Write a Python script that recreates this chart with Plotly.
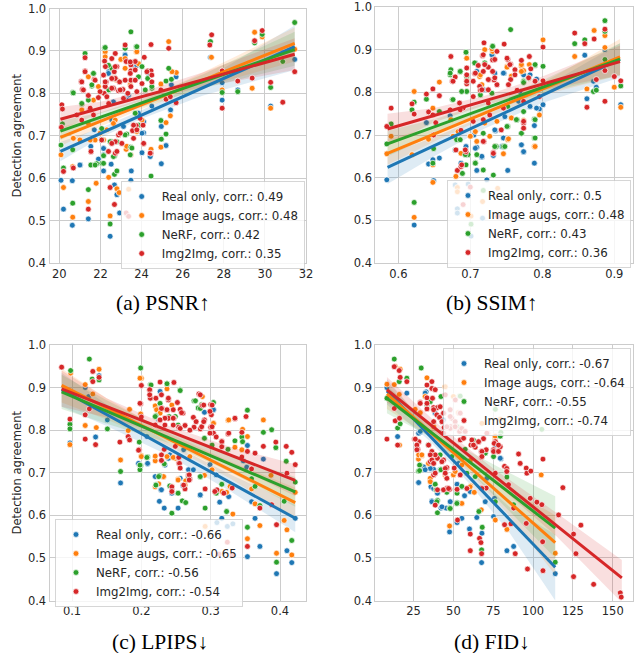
import plotly.graph_objects as go

series_names = ["Real only", "Image augs", "NeRF", "Img2Img"]
series_colors = ["#1f77b4", "#ff7f0e", "#2ca02c", "#d62728"]
band_colors = ["rgba(31,119,180,0.15)", "rgba(255,127,14,0.15)", "rgba(44,160,44,0.15)", "rgba(214,39,40,0.15)"]
y_ticks = [0.4, 0.5, 0.6, 0.7, 0.8, 0.9, 1.0]

# ---------- PSNR ----------
psnr_corr = [0.49, 0.48, 0.42, 0.35]
psnr_ticks = [20, 22, 24, 26, 28, 30, 32]
psnr_blue_x = [20.08,20.2,20.63,20.63,21.02,21.41,21.9,22.15,22.15,22.52,22.47,22.68,22.8,22.93,23.2,23.48,23.5,24.02,24.1,24.42,24.96,24.96,25.19,25.41,25.68,25.45,24.5,24.34,27.35,27.92,27.92,28.68,30.28,31.45,29.5,29.87,22.4,21.53,21.7,22.63,23.28,23.7,23.85,
               22.15,24.02,24.1,22.55,23.12,22.63,23.37,22.39,23.77,23.2,21.0,22.15]
psnr_blue_y = [.595,.527,.594,.489,.631,.504,.645,.617,.671,.633,.463,.584,.561,.518,.892,.595,.617,.66,.707,.651,.722,.634,.677,.761,.839,.82,.77,.847,.885,.825,.784,.808,.77,.88,.922,.94,.851,.675,.714,.73,.792,.863,.753,
               .67,.706,.733,.737,.722,.78,.796,.847,.866,.89,.631,.655]
psnr_orange_x = [20.08,20.2,20.65,20.65,20.68,21,21.41,21.79,22.23,22.4,22.47,22.8,22.91,22.99,23.25,23.37,23.48,23.74,24.1,24.46,24.94,25.19,25.32,25.4,25.69,25.48,24.94,27.4,27.92,29.38,29.5,29.87,30.28,31.45,22.15,21.98,21.41,21.66,23.2,22.72,23.77,24.02,22.8,21.09,
                 22.23,22.23,23.77,23.2,23.85,22.63,21.9,23.45,20.68,21.41,22.31,23.28,22.63,21.74,21.5]
psnr_orange_y = [.655,.578,.627,.508,.694,.69,.545,.588,.896,.602,.511,.575,.566,.88,.668,.574,.655,.898,.681,.668,.673,.731,.922,.747,.849,.851,.822,.885,.808,.812,.944,.933,.765,.904,.69,.706,.839,.784,.859,.737,.71,.737,.831,.761,
                 .898,.886,.898,.882,.87,.835,.816,.82,.694,.729,.714,.675,.729,.69,.69]
psnr_green_x = [20.08,20.2,20.15,20.65,20.65,20.65,21.09,21.25,21.41,21.53,21.41,21.58,21.66,21.82,22.07,22.2,22.15,22.4,22.47,22.68,22.68,22.8,22.55,22.55,23.2,23.28,23.48,23.48,23.74,24.02,24.18,24.3,24.46,24.5,24.94,24.96,25.19,25.19,25.32,25.45,27.35,27.92,28.68,29.5,29.87,30.28,30.87,31.45,23.69,23.85,
                22.23,23.77,20.68,21.66,21.58,22.39,23.85,24.5,21.09,22.06,22.06,22.47,22.8,23.2,23.53,23.45,21.74,22.15,22.72,22.63]
psnr_green_y = [.678,.624,.728,.802,.541,.667,.775,.894,.573,.631,.784,.817,.847,.634,.635,.907,.653,.808,.492,.609,.652,.617,.686,.859,.906,.704,.945,.673,.91,.863,.808,.835,.605,.812,.736,.692,.704,.829,.859,.833,.922,.802,.804,.919,.939,.814,.875,.967,.753,.725,
                .908,.91,.801,.847,.82,.866,.839,.816,.776,.717,.69,.686,.686,.702,.671,.655,.631,.635,.835,.651]
psnr_red_x = [27.41,27.32,27.92,27.92,28.68,29.5,29.38,29.87,30.28,30.87,31.45,20.1,20.12,20.15,20.2,20.68,21.06,21.12,21.06,21.25,21.25,21.41,21.41,21.46,21.53,21.7,21.66,21.9,22.15,22.2,22.24,22.28,22.18,22.4,22.47,22.68,22.72,22.72,22.88,22.72,22.55,22.67,22.72,22.8,22.93,22.88,23.2,23.25,23.48,23.48,23.48,23.48,23.09,23.33,23.69,23.69,23.69,24.13,24.3,24.46,24.46,24.5,24.07,23.61,23.56,23.93,23.74,24.46,24.94,25.32,25.19,25.4,25.68,22.23,22.55,22.63,23.28,23.25,23.37,
              21.5,20.85,21.09,22.31,21.98,22.55,22.96,23.2,23.45,23.12,23.77,24.02,24.5,24.26,23.45,22.72,22.15,21.25,21.09,21.74,21.17,22.23,23.61,23.77,22.96,22.39,22.8,21.54,22.06,22.55,24.42,24.1,23.04]
psnr_red_y = [.938,.914,.853,.765,.829,.924,.836,.948,.826,.779,.851,.72,.773,.763,.616,.624,.828,.809,.737,.884,.853,.527,.795,.762,.662,.833,.749,.79,.843,.876,.863,.827,.8,.776,.578,.538,.659,.686,.702,.894,.882,.851,.835,.863,.827,.806,.914,.875,.867,.853,.831,.816,.809,.8,.875,.855,.831,.885,.853,.853,.915,.827,.725,.694,.712,.741,.724,.659,.808,.906,.786,.792,.778,.816,.835,.812,.516,.518,.51,
              .765,.749,.737,.792,.804,.812,.808,.831,.847,.788,.804,.823,.843,.851,.874,.863,.843,.851,.827,.831,.808,.827,.725,.714,.706,.663,.663,.663,.69,.682,.659,.682,.682]
psnr_band_x = [20.05, 22, 24, 27, 31.45]
psnr_blue_fit = [.663, .705, .749, .814, .91]
psnr_blue_lo = [.64, .695, .74, .795, .855]
psnr_blue_hi = [.685, .718, .76, .83, .96]
psnr_orange_fit = [.696, .733, .772, .831, .918]
psnr_orange_lo = [.675, .722, .763, .815, .875]
psnr_orange_hi = [.72, .745, .782, .85, .955]
psnr_green_fit = [.711, .743, .777, .828, .903]
psnr_green_lo = [.69, .733, .768, .812, .865]
psnr_green_hi = [.735, .755, .787, .845, .945]
psnr_red_fit = [.739, .765, .792, .832, .892]
psnr_red_lo = [.715, .753, .782, .815, .855]
psnr_red_hi = [.768, .78, .803, .85, .93]

# ---------- SSIM ----------
ssim_corr = [0.5, 0.48, 0.43, 0.36]
ssim_ticks = [0.6, 0.7, 0.8, 0.9]
ssim_blue_x = [.584,.622,.642,.648,.649,.657,.679,.682,.682,.687,.694,.697,.701,.705,.709,.709,.716,.717,.723,.732,.735,.746,.752,.747,.731,.709,.769,.771,.774,.774,.783,.789,.789,.792,.796,.801,.859,.862,.871,.875,.887,.909,.639,.672,
               .746,.73,.707,.734,.718,.783,.767,.783,.748,.734,.744,.707,.716,.774,.792,.679,.771]
ssim_blue_y = [.595,.489,.632,.642,.593,.646,.583,.527,.517,.634,.673,.585,.463,.7,.617,.671,.648,.505,.595,.652,.71,.693,.617,.845,.886,.849,.802,.677,.66,.841,.767,.722,.634,.831,.761,.771,.887,.785,.826,.812,.9,.771,.729,.745,
               .845,.888,.869,.845,.806,.841,.779,.767,.743,.712,.673,.669,.65,.661,.763,.665,.677]
ssim_orange_x = [.584,.59,.622,.622,.642,.648,.648,.657,.648,.619,.68,.682,.682,.673,.686,.687,.7,.695,.695,.709,.701,.717,.72,.713,.72,.731,.737,.738,.746,.752,.757,.751,.771,.774,.774,.782,.789,.796,.801,.845,.862,.872,.887,.887,.9,.909,
                 .751,.771,.771,.714,.716,.695,.73,.757,.757,.7,.707,.753,.79,.734,.727,.683,.676]
ssim_orange_y = [.656,.697,.507,.802,.69,.589,.763,.824,.63,.654,.603,.577,.567,.736,.849,.657,.697,.88,.83,.685,.51,.544,.728,.837,.9,.896,.732,.575,.656,.689,.74,.861,.861,.851,.734,.865,.673,.747,.923,.884,.808,.945,.905,.933,.812,.765,
                 .859,.865,.849,.841,.818,.88,.902,.838,.74,.697,.708,.691,.673,.673,.697,.708,.697]
ssim_green_x = [.584,.59,.622,.619,.622,.639,.648,.649,.657,.673,.672,.675,.686,.689,.694,.694,.695,.681,.697,.701,.707,.709,.706,.718,.718,.72,.731,.732,.736,.746,.756,.752,.752,.765,.774,.771,.774,.789,.789,.79,.781,.801,.845,.859,.871,.875,.887,.887,.887,.909,
                .694,.731,.672,.686,.695,.688,.676,.714,.774,.79,.73,.764,.79,.751,.771,.79,.718,.734,.748,.707,.693,.686]
ssim_green_y = [.679,.726,.542,.759,.777,.784,.634,.668,.755,.853,.841,.783,.849,.61,.894,.63,.802,.689,.654,.491,.635,.654,.869,.618,.57,.869,.908,.606,.673,.673,.947,.72,.767,.736,.826,.704,.755,.693,.737,.863,.833,.861,.914,.923,.802,.805,.968,.943,.877,.815,
                .894,.908,.845,.849,.837,.802,.783,.794,.823,.865,.798,.736,.736,.72,.704,.693,.704,.673,.673,.634,.654,.689]
ssim_red_x = [.584,.59,.619,.622,.639,.642,.648,.648,.649,.652,.657,.673,.675,.679,.68,.682,.685,.687,.687,.69,.695,.695,.694,.695,.69,.7,.706,.711,.713,.714,.704,.717,.719,.718,.719,.725,.726,.731,.731,.737,.737,.727,.733,.732,.738,.725,.743,.747,.746,.752,.756,.756,.762,.765,.771,.774,.774,.782,.784,.796,.801,.801,.845,.859,.862,.872,.875,.887,.887,.887,.9,.909,
              .718,.72,.707,.704,.695,.676,.725,.734,.716,.725,.753,.755,.762,.781,.79,.734,.751,.686,.672,.704,.718,.727,.774,.774,.693,.718,.732,.688]
ssim_red_y = [.72,.763,.773,.749,.796,.754,.808,.747,.7,.729,.792,.884,.826,.836,.665,.617,.775,.711,.626,.763,.841,.82,.661,.857,.537,.578,.844,.863,.814,.805,.79,.886,.916,.849,.685,.859,.83,.876,.849,.896,.818,.747,.829,.659,.509,.775,.712,.913,.763,.877,.866,.83,.853,.805,.875,.779,.728,.884,.855,.79,.906,.827,.939,.914,.765,.925,.83,.948,.851,.779,.837,.827,
              .888,.865,.845,.826,.826,.826,.83,.834,.806,.806,.818,.865,.841,.834,.826,.877,.88,.759,.759,.732,.736,.747,.732,.716,.665,.685,.657,.63]
ssim_band_x = [.585, .65, .72, .8, .908]
ssim_blue_fit = [.624, .675, .73, .793, .878]
ssim_blue_lo = [.585, .65, .715, .775, .835]
ssim_blue_hi = [.655, .695, .745, .81, .915]
ssim_orange_fit = [.657, .702, .751, .807, .883]
ssim_orange_lo = [.63, .685, .74, .793, .84]
ssim_orange_hi = [.69, .72, .763, .822, .925]
ssim_green_fit = [.679, .719, .763, .812, .878]
ssim_green_lo = [.65, .7, .752, .798, .84]
ssim_green_hi = [.71, .737, .775, .828, .915]
ssim_red_fit = [.714, .746, .78, .82, .872]
ssim_red_lo = [.675, .73, .77, .805, .84]
ssim_red_hi = [.75, .763, .792, .837, .91]

# ---------- LPIPS ----------
lpips_corr = [-0.66, -0.65, -0.56, -0.54]
lpips_ticks = [0.1, 0.2, 0.3, 0.4]
lpips_blue_x = [.097,.119,.124,.134,.139,.151,.17,.196,.209,.22,.226,.228,.233,.244,.253,.26,.268,.285,.299,.308,.309,.313,.316,.324,.326,.332,.353,.353,.359,.364,.371,.376,.395,.41,.417,.422,.347,.352,.227,.304,.291,.208,.239,
                .209,.196,.234,.241,.256,.263,.285,.275,.304,.229,.261,.299,.225,.326]
lpips_blue_y = [.77,.9,.879,.784,.928,.824,.676,.721,.721,.691,.633,.66,.617,.652,.617,.67,.707,.647,.719,.695,.583,.631,.593,.574,.644,.58,.503,.764,.632,.593,.527,.732,.463,.517,.489,.593,.728,.713,.891,.848,.842,.785,.734,
                .722,.722,.718,.742,.687,.671,.648,.707,.848,.66,.754,.719,.824,.644]
lpips_orange_x = [.097,.098,.119,.119,.13,.135,.139,.17,.181,.183,.2,.2,.199,.22,.221,.225,.232,.237,.244,.253,.249,.264,.27,.288,.291,.292,.304,.301,.316,.323,.325,.328,.332,.335,.345,.346,.353,.353,.359,.364,.371,.376,.395,.387,.406,.41,.417,.422,
                  .198,.237,.22,.222,.227,.244,.22,.2,.22,.232,.237,.246,.253,.263,.304,.326,.22,.302]
lpips_orange_y = [.766,.934,.907,.811,.885,.806,.943,.73,.799,.849,.922,.74,.838,.728,.857,.674,.69,.899,.668,.685,.734,.681,.738,.879,.694,.574,.817,.762,.656,.654,.823,.668,.603,.76,.754,.802,.785,.545,.662,.627,.576,.824,.511,.694,.588,.566,.507,.654,
                  .922,.897,.857,.848,.84,.859,.832,.738,.739,.691,.738,.736,.683,.671,.816,.824,.667,.707]
lpips_green_x = [.097,.097,.098,.125,.129,.139,.151,.17,.197,.199,.199,.209,.213,.221,.221,.226,.227,.233,.237,.244,.253,.256,.259,.264,.276,.282,.285,.287,.291,.292,.304,.308,.316,.323,.325,.335,.345,.346,.353,.353,.359,.364,.371,.376,.388,.394,.395,.406,.409,.417,.422,
                 .214,.237,.256,.278,.22,.227,.24,.249,.253,.285,.198,.198,.208,.221,.225,.241,.253,.285,.302,.268]
lpips_green_y = [.814,.803,.94,.967,.92,.918,.803,.703,.772,.717,.946,.737,.907,.834,.672,.693,.862,.721,.909,.605,.652,.895,.634,.63,.869,.852,.69,.86,.781,.617,.865,.652,.673,.609,.755,.775,.784,.773,.572,.847,.686,.668,.623,.795,.801,.759,.49,.633,.727,.541,.678,
                 .906,.909,.893,.869,.832,.863,.832,.832,.812,.851,.707,.718,.736,.671,.691,.669,.652,.691,.765,.691]
lpips_red_x = [.085,.097,.119,.119,.125,.13,.13,.134,.139,.169,.181,.183,.197,.2,.199,.2,.212,.213,.22,.221,.227,.229,.227,.229,.229,.23,.233,.237,.239,.239,.244,.247,.247,.249,.252,.256,.254,.254,.254,.256,.26,.263,.263,.268,.27,.275,.276,.283,.285,.288,.291,.292,.3,.301,.3,.304,.308,.309,.312,.316,.316,.324,.325,.331,.331,.335,.345,.345,.351,.353,.353,.359,.364,.371,.376,.388,.395,.394,.409,.41,.417,.422,
               .212,.212,.239,.258,.246,.237,.229,.234,.246,.227,.22,.234,.246,.256,.285,.302,.299,.29,.279,.287,.27,.29,.302,.299,.198,.196,.254,.255,.256,.269,.269,.244,.244,.261,.326,.335,.316,.316,.319,.306]
lpips_red_y = [.948,.826,.836,.779,.85,.914,.938,.766,.924,.772,.785,.777,.754,.905,.862,.831,.893,.875,.813,.875,.913,.883,.823,.742,.729,.851,.755,.847,.871,.828,.658,.912,.828,.762,.865,.849,.737,.723,.807,.711,.84,.662,.811,.695,.685,.83,.807,.885,.803,.858,.824,.662,.86,.836,.807,.793,.784,.66,.509,.774,.762,.537,.791,.664,.507,.827,.795,.737,.832,.527,.75,.709,.746,.617,.762,.625,.578,.772,.762,.699,.748,.719,
               .895,.883,.875,.841,.848,.848,.851,.828,.828,.824,.812,.812,.812,.804,.883,.859,.844,.859,.82,.808,.8,.82,.808,.793,.863,.753,.736,.722,.711,.695,.683,.667,.656,.671,.793,.828,.773,.761,.652,.656]
lpips_band_x = [.085, .15, .24, .33, .422]
lpips_blue_fit = [.895, .837, .756, .675, .593]
lpips_blue_lo = [.855, .81, .74, .655, .56]
lpips_blue_hi = [.935, .86, .77, .695, .625]
lpips_orange_fit = [.905, .852, .778, .705, .63]
lpips_orange_lo = [.865, .825, .763, .685, .59]
lpips_orange_hi = [.945, .875, .792, .725, .665]
lpips_green_fit = [.89, .845, .782, .719, .655]
lpips_green_lo = [.85, .815, .77, .7, .62]
lpips_green_hi = [.93, .87, .795, .74, .69]
lpips_red_fit = [.897, .855, .798, .741, .682]
lpips_red_lo = [.855, .83, .785, .72, .645]
lpips_red_hi = [.94, .875, .81, .76, .72]

# ---------- FID ----------
fid_corr = [-0.67, -0.64, -0.55, -0.74]
fid_ticks = [25, 50, 75, 100, 125, 150]
fid_blue_x = [8.3,15,20.8,28.1,29.2,36.5,37.6,40,42.2,45.5,47.6,48,52.3,52.3,55.3,57,60.1,64.7,67.7,67.9,70,75.8,76.3,79.8,83.6,87.8,113.9,32.9,38.6,75.2,43.8,71,53.2,
              28.2,35.5,35.9,37.6,43.8,42.8,36.5,32.3,28.2,79.4,29.2,55.3,60.5,41.7,31.3,32.3,55.3]
fid_blue_y = [.9,.785,.887,.677,.795,.634,.708,.652,.617,.617,.561,.632,.583,.673,.593,.646,.568,.595,.489,.558,.632,.64,.765,.733,.517,.527,.463,.89,.84,.597,.824,.687,.722,
              .677,.71,.667,.663,.66,.62,.632,.887,.793,.734,.797,.667,.656,.707,.714,.707,.734]
fid_orange_x = [8.3,12.9,13.5,16,16.6,16.2,26,28.1,29.2,30.2,33.4,34.4,35.5,47.6,50,55.3,60.9,63.1,67.5,76.3,76.3,83.6,105.1,113.9,44.9,54.3,67.9,60.6,37.6,44.9,45.9,79.4,50,53.2,
                28.2,30.2,37.6,35.5,35.5,51.1,60.5,67.9,76.2,76.2,55.3,38.6,32.3]
fid_orange_y = [.908,.907,.95,.884,.943,.765,.849,.732,.841,.74,.923,.722,.682,.575,.695,.628,.669,.654,.613,.785,.589,.567,.695,.511,.902,.805,.816,.729,.808,.695,.687,.826,.879,.841,
                .742,.742,.73,.687,.679,.703,.667,.663,.777,.786,.718,.671,.879]
fid_green_x = [8.3,12.9,15,16,16.6,20.8,28.1,29.2,29.8,33.4,35.5,34.4,38.6,40,40,42.2,47.6,45.9,52.3,52.3,55.3,53.9,57.4,62.7,63.7,66,68.1,67.7,76.3,76.3,79.8,83.6,87.8,105.5,113.9,42.2,49,52.3,70,
               54.3,28.8,28.8,42.2,39.2,52.2,39.6,48,34.4,41.7,79.4,75.2,58.5,70]
fid_green_y = [.875,.967,.805,.914,.815,.922,.704,.718,.946,.859,.867,.766,.673,.606,.635,.707,.617,.654,.63,.652,.668,.88,.755,.776,.691,.609,.572,.519,.632,.849,.795,.69,.625,.802,.49,.879,.738,.808,.746,
               .88,.718,.705,.707,.66,.628,.632,.616,.765,.742,.786,.738,.699,.663]
fid_red_x = [8.3,12.9,12.9,13.5,15,16,16.2,16.6,20.8,25.6,27.7,28.3,29.2,33.4,33.4,33.4,36.5,36.5,36.9,37.6,38.6,39.6,40,35.5,35.9,37.6,40,40,41.3,43.8,44.2,45.9,47.6,48.4,51.2,50.5,52.3,52.6,53.9,53.9,54.3,57.4,56.4,60.6,60.6,61,63.7,65.8,66.4,67.3,67.7,67.5,67.5,67.3,68.9,70.6,70.6,71.4,75.2,76.3,77,79.4,76.3,82.1,83.6,82.1,84.6,86.1,87.8,88.8,90.9,91.9,95.7,96.1,95.7,96.5,98.2,98.6,102.4,105.5,106.2,106,106.2,116,118.7,125.4,125.4,126.9,130,138,154.7,155.3,44.9,48,49,51.2,43.8,
             29.2,33.4,41.7,37.6,43.8,48,37.6,42.8,51.1,48,54.3,45.9,51.1,55.3,43.8,57.4,26.1,27.1,27.1,34.4,36.5,38.6,35.5,36.5,42.8,44.9,38.6,45.9,44.9,54.3,61.6,62.6,65.8,71,67.9,67.9,75.6,78.3,75.2,78.3,83.5,83.5,45.9,58.5,67.9,43.8,38.6,47,37.6]
fid_red_y = [.779,.851,.949,.822,.765,.94,.828,.924,.914,.779,.755,.773,.865,.906,.876,.85,.914,.898,.875,.853,.895,.836,.853,.726,.742,.695,.66,.734,.83,.73,.806,.712,.661,.808,.808,.711,.661,.589,.84,.797,.777,.797,.781,.517,.556,.765,.76,.773,.546,.536,.51,.75,.736,.664,.78,.754,.664,.793,.754,.773,.75,.761,.699,.715,.703,.578,.672,.58,.617,.51,.744,.722,.711,.699,.581,.474,.64,.704,.631,.625,.732,.538,.47,.601,.665,.556,.456,.51,.577,.438,.418,.408,.883,.848,.828,.871,.84,
             .863,.863,.855,.848,.84,.832,.82,.82,.82,.804,.84,.808,.808,.804,.793,.797,.779,.765,.754,.765,.75,.742,.742,.73,.726,.71,.699,.687,.699,.695,.777,.765,.773,.793,.75,.738,.769,.765,.75,.75,.71,.703,.663,.663,.663,.66,.624,.663,.722]
fid_band_x = [8.3, 35, 60, 85, 113.9]
fid_blue_fit = [.892, .787, .689, .591, .478]
fid_blue_lo = [.86, .775, .675, .56, .40]
fid_blue_hi = [.92, .80, .705, .62, .555]
fid_orange_fit = [.885, .797, .714, .631, .536]
fid_orange_lo = [.85, .785, .70, .60, .46]
fid_orange_hi = [.915, .81, .73, .665, .60]
fid_green_fit = [.875, .798, .726, .654, .57]
fid_green_lo = [.84, .785, .705, .61, .50]
fid_green_hi = [.905, .812, .75, .70, .645]
fid_red_band_x = [8.3, 40, 75, 115, 155.7]
fid_red_fit = [.895, .80, .695, .575, .453]
fid_red_lo = [.865, .79, .68, .55, .395]
fid_red_hi = [.925, .815, .71, .605, .495]

W, H = 637, 653
panels = [
    dict(ax="", caption="(a) PSNR↑", corr=psnr_corr, ticks=psnr_ticks, rng=[19.52, 32.0], box=(49.5, 306, 8.5, 263),
         legend=(120.7, 181), cap=(163, 303),
         pts=[(psnr_blue_x, psnr_blue_y), (psnr_orange_x, psnr_orange_y), (psnr_green_x, psnr_green_y), (psnr_red_x, psnr_red_y)],
         bx=[psnr_band_x] * 4,
         fit=[psnr_blue_fit, psnr_orange_fit, psnr_green_fit, psnr_red_fit],
         lo=[psnr_blue_lo, psnr_orange_lo, psnr_green_lo, psnr_red_lo],
         hi=[psnr_blue_hi, psnr_orange_hi, psnr_green_hi, psnr_red_hi]),
    dict(ax="2", caption="(b) SSIM↑", corr=ssim_corr, ticks=ssim_ticks, rng=[0.568, 0.926], box=(375.3, 633, 7, 263),
         legend=(447, 180), cap=(492, 303),
         pts=[(ssim_blue_x, ssim_blue_y), (ssim_orange_x, ssim_orange_y), (ssim_green_x, ssim_green_y), (ssim_red_x, ssim_red_y)],
         bx=[ssim_band_x] * 4,
         fit=[ssim_blue_fit, ssim_orange_fit, ssim_green_fit, ssim_red_fit],
         lo=[ssim_blue_lo, ssim_orange_lo, ssim_green_lo, ssim_red_lo],
         hi=[ssim_blue_hi, ssim_orange_hi, ssim_green_hi, ssim_red_hi]),
    dict(ax="3", caption="(c) LPIPS↓", corr=lpips_corr, ticks=lpips_ticks, rng=[0.0675, 0.4375], box=(49.5, 306, 345, 600.5),
         legend=(55, 519), cap=(160, 642),
         pts=[(lpips_blue_x, lpips_blue_y), (lpips_orange_x, lpips_orange_y), (lpips_green_x, lpips_green_y), (lpips_red_x, lpips_red_y)],
         bx=[lpips_band_x] * 4,
         fit=[lpips_blue_fit, lpips_orange_fit, lpips_green_fit, lpips_red_fit],
         lo=[lpips_blue_lo, lpips_orange_lo, lpips_green_lo, lpips_red_lo],
         hi=[lpips_blue_hi, lpips_orange_hi, lpips_green_hi, lpips_red_hi]),
    dict(ax="4", caption="(d) FID↓", corr=fid_corr, ticks=fid_ticks, rng=[1.0, 162.7], box=(375.3, 633, 345, 600.5),
         legend=(443, 348), cap=(492, 642),
         pts=[(fid_blue_x, fid_blue_y), (fid_orange_x, fid_orange_y), (fid_green_x, fid_green_y), (fid_red_x, fid_red_y)],
         bx=[fid_band_x, fid_band_x, fid_band_x, fid_red_band_x],
         fit=[fid_blue_fit, fid_orange_fit, fid_green_fit, fid_red_fit],
         lo=[fid_blue_lo, fid_orange_lo, fid_green_lo, fid_red_lo],
         hi=[fid_blue_hi, fid_orange_hi, fid_green_hi, fid_red_hi]),
]

TEXT = "#262626"
GRID = "#cccccc"
fig = go.Figure()
layout = dict(width=W, height=H, margin=dict(l=0, r=0, t=0, b=0, autoexpand=False), autosize=False,
              paper_bgcolor="white", plot_bgcolor="white", showlegend=True,
              font=dict(family="DejaVu Sans", color=TEXT, size=11.5),
              annotations=[])

for n, p in enumerate(panels):
    xa, ya = "x" + p["ax"], "y" + p["ax"]
    legend_id = "legend" + p["ax"]
    for i in range(4):
        bx = p["bx"][i]
        fig.add_trace(go.Scatter(x=list(bx) + list(bx)[::-1], y=list(p["hi"][i]) + list(p["lo"][i])[::-1],
                                 mode="lines", line=dict(width=0), fill="toself",
                                 fillcolor=band_colors[i], showlegend=False, hoverinfo="skip",
                                 xaxis=xa, yaxis=ya))
        fig.add_trace(go.Scatter(x=p["pts"][i][0], y=p["pts"][i][1], mode="markers",
                                 name=f"{series_names[i]}, corr.: {p['corr'][i]}",
                                 marker=dict(color=series_colors[i], size=5.8, line=dict(color="white", width=0.7)),
                                 legend=legend_id, xaxis=xa, yaxis=ya))
    for i in range(4):
        bx = p["bx"][i]
        fig.add_trace(go.Scatter(x=[bx[0], bx[-1]], y=[p["fit"][i][0], p["fit"][i][-1]], mode="lines",
                                 line=dict(color=series_colors[i], width=3), showlegend=False, hoverinfo="skip",
                                 xaxis=xa, yaxis=ya))
    l, r, t, b = p["box"]
    axis_common = dict(showgrid=True, gridcolor=GRID, gridwidth=1, zeroline=False, showline=True,
                       linecolor=GRID, linewidth=1, mirror=True, ticks="", tickfont=dict(size=11.5, color=TEXT))
    layout["xaxis" + p["ax"]] = dict(domain=[l / W, r / W], range=p["rng"], tickvals=p["ticks"],
                                     anchor=ya, **axis_common)
    ydict = dict(domain=[1 - b / H, 1 - t / H], range=[0.4, 1.0], tickvals=y_ticks, tickformat=".1f",
                 anchor=xa, **axis_common)
    if n in (0, 2):
        ydict["title"] = dict(text="Detection agreement", font=dict(size=11.6, color=TEXT), standoff=3)
    layout["yaxis" + p["ax"]] = ydict
    lx, ly = p["legend"]
    layout[legend_id] = dict(x=lx / W, y=1 - ly / H, xanchor="left", yanchor="top",
                             bgcolor="rgba(255,255,255,0.8)", bordercolor="rgba(204,204,204,0.8)", borderwidth=1,
                             font=dict(size=11.8, color=TEXT), itemsizing="trace", tracegroupgap=0)
    cx, cy = p["cap"]
    layout["annotations"].append(dict(text=p["caption"], x=cx / W, y=1 - cy / H, xref="paper", yref="paper",
                                      showarrow=False, xanchor="center", yanchor="middle",
                                      font=dict(family="Liberation Serif", size=21.5, color="black")))

fig.update_layout(**layout)
for name, arrs in [("psnr", (psnr_blue_x, psnr_blue_y, psnr_orange_x, psnr_orange_y, psnr_green_x, psnr_green_y, psnr_red_x, psnr_red_y)),
                   ("ssim", (ssim_blue_x, ssim_blue_y, ssim_orange_x, ssim_orange_y, ssim_green_x, ssim_green_y, ssim_red_x, ssim_red_y)),
                   ("lpips", (lpips_blue_x, lpips_blue_y, lpips_orange_x, lpips_orange_y, lpips_green_x, lpips_green_y, lpips_red_x, lpips_red_y)),
                   ("fid", (fid_blue_x, fid_blue_y, fid_orange_x, fid_orange_y, fid_green_x, fid_green_y, fid_red_x, fid_red_y))]:
    for a, b in zip(arrs[::2], arrs[1::2]):
        assert len(a) == len(b), (name, len(a), len(b))
fig.write_html("out.html", config={"displayModeBar": False}, post_script="document.body.style.margin='0';")
